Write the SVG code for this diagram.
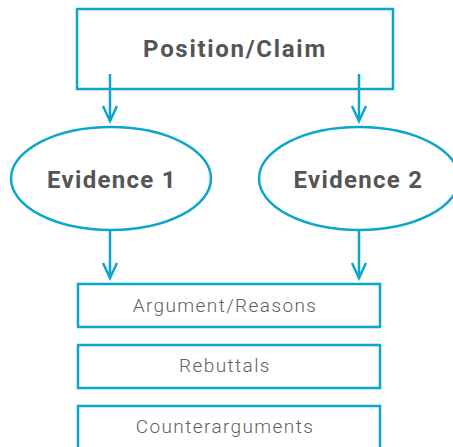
<svg xmlns="http://www.w3.org/2000/svg" width="453" height="447" viewBox="0 0 453 447">
  <defs>
    <style>
      .shape { fill: #ffffff; stroke: #0aa6cb; stroke-width: 2.5; }
      .edge { fill: none; stroke: #0aa6cb; stroke-width: 2.5; }
      .head { fill: none; stroke: #0aa6cb; stroke-width: 2.5; stroke-linejoin: miter; }
      .bold { font-family: "Roboto", "Liberation Sans", sans-serif; font-weight: 700; font-size: 24px; fill: #555555; text-anchor: middle; letter-spacing: 1.3px; }
      .title { letter-spacing: 1.7px; }
      .light { font-family: "Roboto", "Liberation Sans", sans-serif; font-weight: 300; font-size: 19px; fill: #616161; text-anchor: middle; letter-spacing: 1.4px; }
    </style>
  </defs>
  <rect width="453" height="447" fill="#ffffff"/>

  <g id="claim">
    <rect class="shape" x="77" y="9" width="316" height="80"/>
    <text class="bold title" x="235" y="57">Position/Claim</text>
  </g>

  <g id="evidence1">
    <ellipse class="shape" cx="111" cy="178.5" rx="100" ry="51.5"/>
    <text class="bold" x="112" y="188">Evidence 1</text>
  </g>

  <g id="evidence2">
    <ellipse class="shape" cx="359" cy="178.5" rx="100" ry="51.5"/>
    <text class="bold" x="358.5" y="188">Evidence 2</text>
  </g>

  <g id="arguments">
    <rect class="shape" x="78" y="284" width="302" height="43"/>
    <text class="light" x="225" y="312">Argument/Reasons</text>
  </g>

  <g id="rebuttals">
    <rect class="shape" x="78" y="345" width="302" height="43"/>
    <text class="light" x="225" y="372">Rebuttals</text>
  </g>

  <g id="counterarguments">
    <rect class="shape" x="78" y="406" width="302" height="45"/>
    <text class="light" x="225" y="433">Counterarguments</text>
  </g>

  <g id="connectors">
    <line class="edge" x1="110" y1="74" x2="110" y2="121"/>
    <polyline class="head" points="103,106 110,121 117,106"/>
    <line class="edge" x1="359" y1="74" x2="359" y2="121"/>
    <polyline class="head" points="352,106 359,121 366,106"/>
    <line class="edge" x1="110" y1="230" x2="110" y2="278"/>
    <polyline class="head" points="103,263 110,278 117,263"/>
    <line class="edge" x1="359" y1="230" x2="359" y2="278"/>
    <polyline class="head" points="352,263 359,278 366,263"/>
  </g>
</svg>
